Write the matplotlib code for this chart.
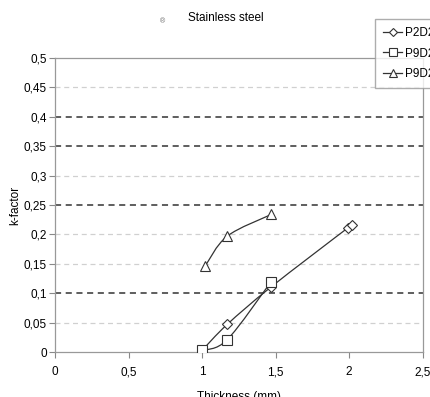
import matplotlib
matplotlib.use("Agg")
import matplotlib.pyplot as plt
import numpy as np
from matplotlib.path import Path
from matplotlib.patches import PathPatch
from matplotlib.lines import Line2D

plt.rcParams["font.family"] = ["Liberation Sans", "DejaVu Sans"]

# data
x_p2 = [1.00, 1.17, 1.47, 1.99, 2.02]
y_p2 = [0.003, 0.047, 0.111, 0.211, 0.216]
x_p9a = [1.00, 1.17, 1.47]
y_p9a = [0.003, 0.021, 0.120]
x_p9b = [1.02, 1.17, 1.47]
y_p9b = [0.146, 0.197, 0.234]
labels = ["P2D25", "P9D25", "P9D20"]
dark_grid = [0.1, 0.25, 0.35, 0.4]
light_grid = [0.05, 0.15, 0.2, 0.3, 0.45]
yticks = [0, 0.05, 0.1, 0.15, 0.2, 0.25, 0.3, 0.35, 0.4, 0.45, 0.5]
xticks = [0, 0.5, 1, 1.5, 2, 2.5]


def fmt(v):
    s = f"{v:g}"
    return s.replace(".", ",")


def smooth_path(xs, ys, t=0.5):
    # Catmull-Rom style smoothed line like Excel "smoothed line"
    pts = np.column_stack([xs, ys])
    verts = [pts[0]]
    codes = [Path.MOVETO]
    n = len(pts)
    for i in range(n - 1):
        p0 = pts[i - 1] if i > 0 else pts[i]
        p1, p2 = pts[i], pts[i + 1]
        p3 = pts[i + 2] if i + 2 < n else pts[i + 1]
        c1 = p1 + (p2 - p0) * t / 3
        c2 = p2 - (p3 - p1) * t / 3
        verts += [c1, c2, p2]
        codes += [Path.CURVE4] * 3
    return Path(verts, codes)


fig = plt.figure(figsize=(4.3, 3.97), dpi=100)
ax = fig.add_axes([0.128, 0.113, 0.855, 0.741])

for g in light_grid:
    ax.axhline(g, color="#d0d0d0", linestyle=(0, (4, 3)), linewidth=0.9, zorder=0)
for g in dark_grid:
    ax.axhline(g, color="#333333", linestyle=(0, (4, 3)), linewidth=1.1, zorder=0)

series = [(x_p2, y_p2, "D", 5), (x_p9a, y_p9a, "s", 7), (x_p9b, y_p9b, "^", 7)]
handles = []
for (xs, ys, m, ms), lab in zip(series, labels):
    ax.add_patch(PathPatch(smooth_path(xs, ys), facecolor="none",
                           edgecolor="#333333", linewidth=0.9, zorder=2))
    ax.plot(xs, ys, linestyle="none", marker=m, markersize=ms,
            markerfacecolor="white", markeredgecolor="#333333",
            markeredgewidth=0.8, zorder=3)
    handles.append(Line2D([], [], color="#333333", linewidth=0.9, marker=m,
                          markersize=ms - 1, markerfacecolor="white",
                          markeredgecolor="#333333", markeredgewidth=0.8))

ax.set_xlim(0, 2.5)
ax.set_ylim(0, 0.5)
ax.set_xticks(xticks)
ax.set_xticklabels([fmt(v) for v in xticks], fontsize=8.5)
ax.set_yticks(yticks)
ax.set_yticklabels([fmt(v) for v in yticks], fontsize=8.5)
ax.tick_params(axis="x", direction="out", length=4, width=0.8, color="#888888", pad=6)
ax.tick_params(axis="y", direction="out", length=4, width=0.8, color="#888888", pad=2)
for sp in ax.spines.values():
    sp.set_color("#999999")
    sp.set_linewidth(0.9)

ax.set_xlabel("Thickness (mm)", fontsize=8.5, labelpad=9)
ax.set_ylabel("k-factor", fontsize=8.5, labelpad=2)
fig.text(0.525, 0.955, "Stainless steel", ha="center", va="center", fontsize=8.5)
fig.text(0.378, 0.945, "\u00ae", ha="center", va="center", fontsize=5, color="#666666")

fig.legend(handles, labels, loc="upper left", bbox_to_anchor=(375 / 430, 1 - 19 / 397),
           frameon=True, fancybox=False, edgecolor="#999999", fontsize=8.5,
           handlelength=1.6, handletextpad=0.2, borderpad=0.7, labelspacing=0.7,
           borderaxespad=0)

fig.savefig("out.png", dpi=100)
